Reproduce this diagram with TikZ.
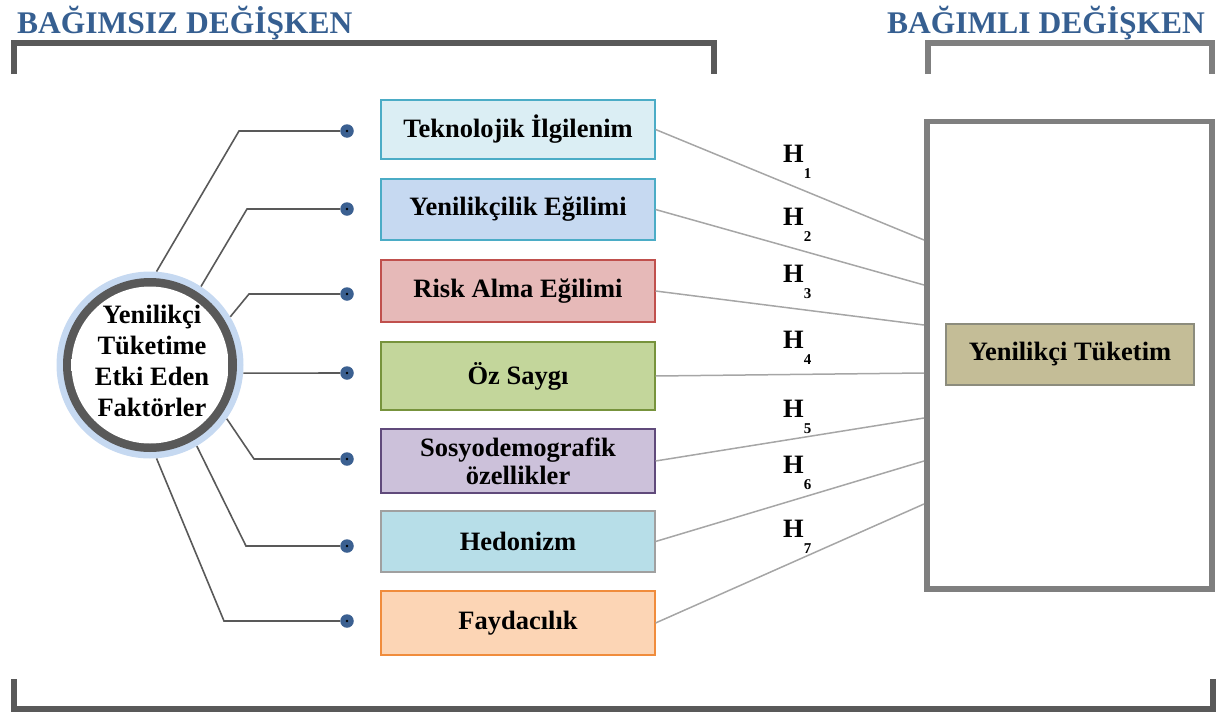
\documentclass[tikz,border=0pt]{standalone}
\usepackage{fontspec}
\setmainfont{Liberation Serif}
\usepackage{tikz}
\definecolor{hdrblue}{RGB}{54,95,145}
\definecolor{ringblue}{RGB}{198,217,241}
\definecolor{ringgray}{RGB}{89,89,89}
\definecolor{dotblue}{RGB}{59,96,145}
\definecolor{hypgray}{RGB}{166,166,166}
\definecolor{brdark}{RGB}{89,89,89}
\definecolor{brgray}{RGB}{127,127,127}
\definecolor{tekfill}{RGB}{219,238,244}
\definecolor{tekdraw}{RGB}{75,172,198}
\definecolor{yenfill}{RGB}{198,217,241}
\definecolor{yendraw}{RGB}{75,172,198}
\definecolor{riskfill}{RGB}{230,185,184}
\definecolor{riskdraw}{RGB}{192,80,77}
\definecolor{ozfill}{RGB}{195,214,155}
\definecolor{ozdraw}{RGB}{119,147,60}
\definecolor{sosfill}{RGB}{204,193,218}
\definecolor{sosdraw}{RGB}{96,74,123}
\definecolor{hedfill}{RGB}{183,222,232}
\definecolor{heddraw}{RGB}{160,160,160}
\definecolor{fayfill}{RGB}{252,213,181}
\definecolor{faydraw}{RGB}{240,140,60}
\definecolor{tukfill}{RGB}{196,189,151}
\definecolor{tukdraw}{RGB}{140,140,125}
\pgfdeclareradialshading{ringshade}{\pgfpoint{0bp}{0bp}}{color(0bp)=(white); color(30bp)=(white); color(50bp)=(black!40)}

\begin{document}
\begin{tikzpicture}[x=1pt, y=-1pt,
  every node/.style={font=\bfseries\fontsize{26.5}{28}\selectfont},
  header/.style={text=hdrblue, font=\bfseries\fontsize{31.5}{34}\selectfont, anchor=base west, inner sep=0},
  factorbox/.style={rectangle, minimum width=274, line width=1.1, align=center, inner sep=0},
  dotnode/.style={circle, fill=dotblue, minimum size=13.5, inner sep=0,
    path picture={\fill[black] (path picture bounding box.center) circle (1.4);}},
  leftline/.style={ringgray, line width=1.6},
  hypline/.style={hypgray, line width=1.5},
  hyplabel/.style={anchor=base west, inner sep=0}]
\useasboundingbox (0,0) rectangle (1219,715);
% Headers and brackets
\node[header] (indep) at (17,33) {BAĞIMSIZ DEĞİŞKEN};
\node[header] (deptitle) at (887,33) {BAĞIMLI DEĞİŞKEN};
\draw[brdark, line width=5.5] (14,74) -- (14,43) -- (714,43) -- (714,74);
\draw[brgray, line width=5.5] (928,74) -- (928,43) -- (1212,43) -- (1212,74);
\draw[brdark, line width=6] (14,679) -- (14,709) -- (1213,709) -- (1213,679);
% Central circle
\node[circle, fill=ringblue, minimum size=187, inner sep=0] (fac) at (150,365) {};
\fill[ringgray] (fac.center) circle (87);
\shade[shading=ringshade] (fac.center) circle (78.5);
\node[align=center, font=\bfseries\fontsize{26.5}{31}\selectfont] (factxt) at (152,361)
  {Yenilikçi\\Tüketime\\Etki Eden\\Faktörler};
% Factor boxes
\foreach \i/\y/\h/\f/\d/\t in {
  1/129.5/59/tekfill/tekdraw/{Teknolojik İlgilenim},
  2/209.5/61/yenfill/yendraw/{Yenilikçilik Eğilimi},
  3/291/62/riskfill/riskdraw/{Risk Alma Eğilimi},
  4/376/68/ozfill/ozdraw/{Öz Saygı},
  5/461/64/sosfill/sosdraw/{Sosyodemografik\\özellikler},
  6/541.5/61/hedfill/heddraw/{Hedonizm},
  7/623/64/fayfill/faydraw/{Faydacılık}} {
  \node[factorbox, fill=\f, draw=\d, minimum height=\h] (b\i) at (518,\y) {\t};
}
% Dots and connectors from the circle
\foreach \i/\y in {1/131,2/209,3/294,4/373,5/459,6/546,7/621}
  \node[dotnode] (d\i) at (347,\y) {};
\foreach \i/\a/\bx/\by in {1/86/239/131,2/57/247/209,3/31/249/294,5/-35/254/459,6/-60/246/546,7/-86/224/621}
  \draw[leftline] (fac.\a) -- (\bx,\by) -- (d\i);
\draw[leftline] (fac.-5) -- (d4);
% Dependent variable
\node[draw=brgray, line width=5.5, minimum width=285, minimum height=467.5, inner sep=0] (dep) at (1069.5,355.25) {};
\node[fill=tukfill, draw=tukdraw, line width=1.1, minimum width=248, minimum height=61, inner sep=0] (yt) at (1070,354.5) {Yenilikçi Tüketim};
% Hypotheses
\foreach \i/\y in {1/240,2/285,3/325,4/373,5/418,6/461,7/504} {
  \coordinate (e\i) at (924,\y);
  \draw[hypline] (b\i.east) -- (e\i);
}
\foreach \i/\y in {1/162,2/225,3/282,4/348,5/417,6/473,7/537}
  \node[hyplabel] (h\i) at (783,\y) {H\raisebox{-16pt}{\fontsize{15}{15}\selectfont\i}};
\end{tikzpicture}
\end{document}
